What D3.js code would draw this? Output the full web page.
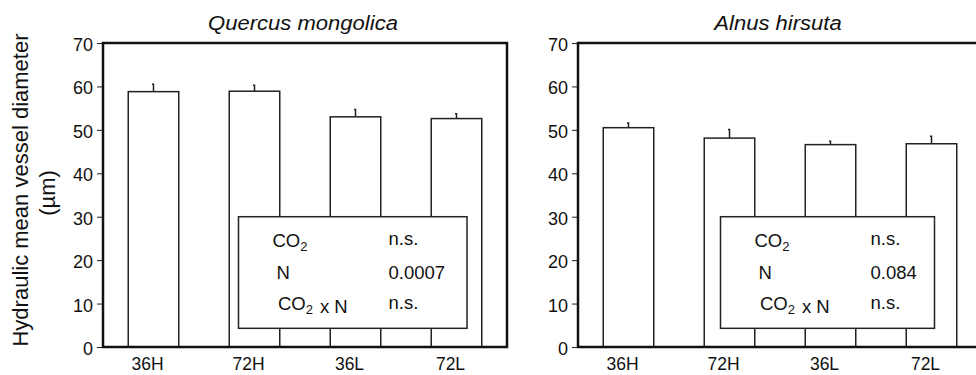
<!DOCTYPE html>
<html>
<head>
<meta charset="utf-8">
<script src="https://cdn.jsdelivr.net/npm/d3@7"></script>
<style>
  body { margin: 0; background: #fff; }
  svg { display: block; font-family: "Liberation Sans", Arial, sans-serif; }
</style>
</head>
<body>
<svg width="976" height="375"></svg>
<script>
let width = 976, height = 375;

let svg = d3.select("svg");

// data
let groups = ["36H", "72H", "36L", "72L"];
let species = ["Quercus mongolica", "Alnus hirsuta"];
let quercusMean = [58.8, 58.9, 53.0, 52.6];
let quercusErr = [1.7, 1.4, 1.7, 1.1];
let alnusMean = [50.5, 48.1, 46.6, 46.8];
let alnusErr = [1.1, 2.0, 0.8, 1.7];
let statLabels = ["CO2", "N", "CO2xN"];
let quercusStats = ["n.s.", "0.0007", "n.s."];
let alnusStats = ["n.s.", "0.084", "n.s."];
let yTicks = [0, 10, 20, 30, 40, 50, 60, 70];

let panels = [
    { title: species[0], mean: quercusMean, err: quercusErr, stats: quercusStats, left: 103, boxX: 238.5, boxW: 228.5, valX: 150 },
    { title: species[1], mean: alnusMean, err: alnusErr, stats: alnusStats, left: 578, boxX: 720.5, boxW: 214, valX: 150 }
];

let plotTop = 43, plotBottom = 347, panelW = 404;

let y = d3.scaleLinear().domain([0, 70]).range([plotBottom, plotTop]);

panels.forEach(p => {
    let x = d3.scaleBand()
        .domain(groups)
        .range([p.left, p.left + panelW])
        .paddingInner(0.5)
        .paddingOuter(0.25);

    let g = svg.append("g");

    // title (slightly widened like the original print)
    let title = g.append("text")
        .attr("x", p.left + panelW / 2 - 2)
        .attr("y", 30)
        .attr("text-anchor", "middle")
        .style("font-style", "italic")
        .style("font-size", "19.5px")
        .attr("fill", "#111")
        .text(p.title);
    let tl = title.node().getComputedTextLength();
    title.attr("textLength", tl * 1.13).attr("lengthAdjust", "spacingAndGlyphs");

    // bars
    g.selectAll(".bar")
        .data(groups)
        .enter()
        .append("rect")
        .attr("x", d => x(d))
        .attr("y", (d, i) => y(p.mean[i]))
        .attr("width", x.bandwidth())
        .attr("height", (d, i) => y(0) - y(p.mean[i]))
        .attr("fill", "#fff")
        .attr("stroke", "#222")
        .attr("stroke-width", 1.5);

    // error bars
    g.selectAll(".err")
        .data(groups)
        .enter()
        .append("path")
        .attr("d", (d, i) => {
            let cx = x(d) + x.bandwidth() / 2;
            return "M" + cx + "," + y(p.mean[i]) + "V" + y(p.mean[i] + p.err[i]) + "h-1.5";
        })
        .attr("fill", "none")
        .attr("stroke", "#222")
        .attr("stroke-width", 1.5);

    // y axis
    let yAxis = g.append("g")
        .attr("transform", "translate(" + p.left + ",0)")
        .call(d3.axisLeft(y).tickValues(yTicks).tickSize(6).tickPadding(4));
    yAxis.select(".domain").remove();
    yAxis.selectAll("line").attr("stroke", "#222").attr("stroke-width", 1);
    yAxis.selectAll("text")
        .attr("dy", "0.42em")
        .style("font-size", "18px")
        .attr("fill", "#111")
        .attr("font-family", null);

    // x axis labels
    let xAxis = g.append("g")
        .attr("transform", "translate(0," + plotBottom + ")")
        .call(d3.axisBottom(x).tickSize(0).tickPadding(11));
    xAxis.select(".domain").remove();
    xAxis.selectAll("text")
        .attr("dx", -6)
        .style("font-size", "17.5px")
        .attr("fill", "#111")
        .attr("font-family", null);

    // frame
    g.append("rect")
        .attr("x", p.left)
        .attr("y", plotTop)
        .attr("width", panelW)
        .attr("height", plotBottom - plotTop)
        .attr("fill", "none")
        .attr("stroke", "#111")
        .attr("stroke-width", 2.5);

    // stats box
    let boxTop = y(30), boxBottom = y(4.3);
    g.append("rect")
        .attr("x", p.boxX)
        .attr("y", boxTop)
        .attr("width", p.boxW)
        .attr("height", boxBottom - boxTop)
        .attr("fill", "#fff")
        .attr("stroke", "#222")
        .attr("stroke-width", 1.5);

    let rowY = [246.5, 278.3, 310];
    let valY = [245, 278.3, 308.3];
    let labX = [34, 38, 39.5];
    statLabels.forEach((s, i) => {
        let t = g.append("text")
            .attr("x", p.boxX + labX[i])
            .attr("y", boxTop + rowY[i] - 216.5)
            .style("font-size", "18.5px")
            .attr("fill", "#111");
        if (s === "N") {
            t.text("N");
        } else {
            t.append("tspan").text("CO");
            t.append("tspan").attr("dy", 4).style("font-size", "13px").text("2");
            if (s === "CO2xN") {
                t.append("tspan").attr("dy", -1).attr("dx", 7).text("x N");
            }
        }
        g.append("text")
            .attr("x", p.boxX + p.valX)
            .attr("y", boxTop + valY[i] - 216.5)
            .style("font-size", "18.5px")
            .attr("fill", "#111")
            .text(p.stats[i]);
    });
});

// y axis title
svg.append("text")
    .attr("transform", "translate(28,190) rotate(-90)")
    .attr("text-anchor", "middle")
    .style("font-size", "22px")
    .attr("fill", "#111")
    .text("Hydraulic mean vessel diameter");
svg.append("text")
    .attr("transform", "translate(55,193) rotate(-90)")
    .attr("text-anchor", "middle")
    .style("font-size", "22px")
    .attr("fill", "#111")
    .text("(µm)");
</script>
</body>
</html>
